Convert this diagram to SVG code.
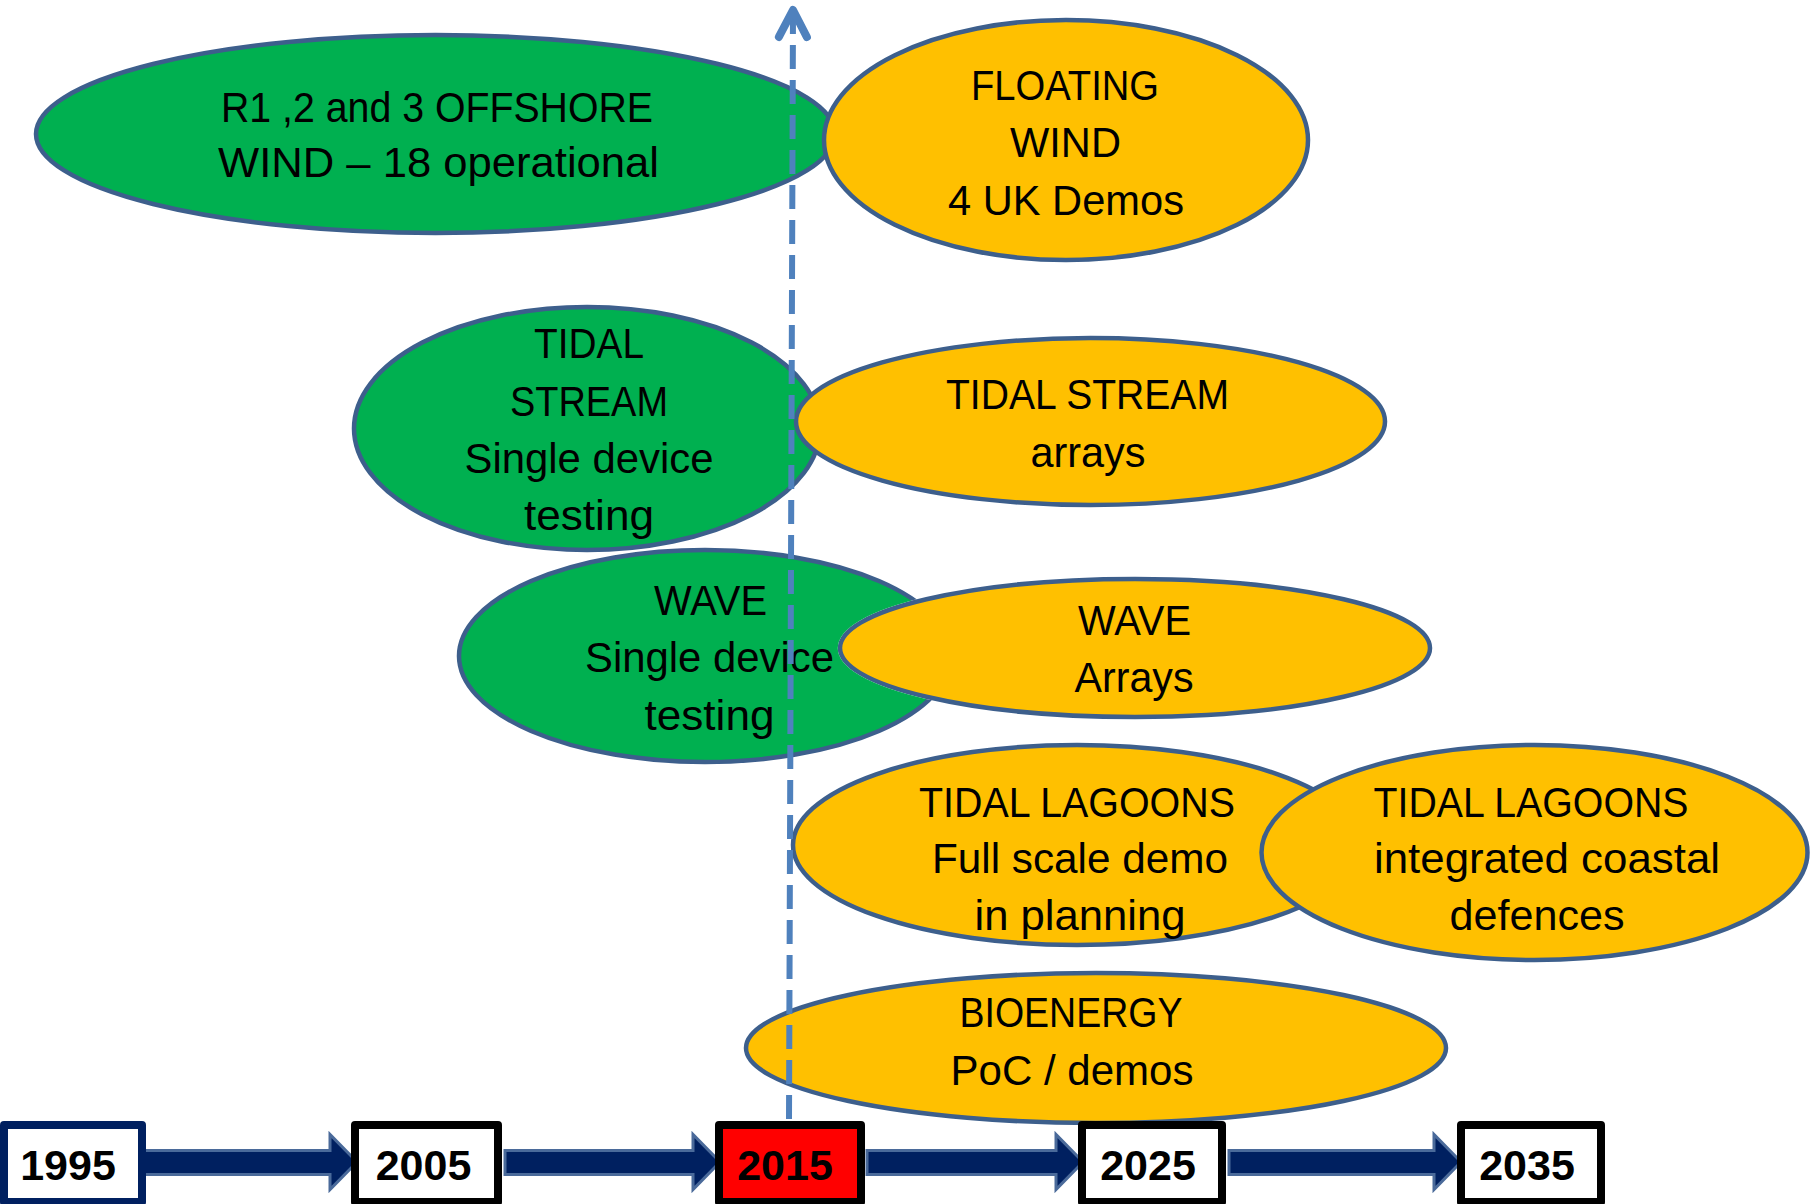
<svg xmlns="http://www.w3.org/2000/svg" width="1814" height="1204" viewBox="0 0 1814 1204">
  <style>
    .bubble ellipse { stroke: #3D5F8C; stroke-width: 4.5; }
    .done ellipse { fill: #00B050; }
    .next ellipse { fill: #FFC000; }
    .label { font-family: "Liberation Sans", Arial, sans-serif; font-size: 43px; fill: #000; text-anchor: middle; }
    .year rect { fill: #fff; stroke: #000; stroke-width: 8; stroke-linejoin: round; }
    .year text { font-family: "Liberation Sans", Arial, sans-serif; font-weight: bold; font-size: 43px; fill: #000; text-anchor: middle; }
    .step { fill: #002060; stroke: #4A6A9A; stroke-width: 3; }
    .now { fill: none; stroke: #4F81BD; stroke-width: 6; stroke-dasharray: 24 11; }
  </style>
  <defs>
    <!-- open chevron head for the "today" line -->
    <marker id="open-head" markerUnits="userSpaceOnUse" viewBox="-40 -22 46 44" refX="0" refY="0" markerWidth="46" markerHeight="44" orient="auto-start-reverse" overflow="visible">
      <path d="M-27,-14 L0,0 L-27,14" fill="none" stroke="#4F81BD" stroke-width="8" stroke-linecap="round" stroke-linejoin="round"/>
    </marker>
    <!-- hides the part of the wave single-device bubble lying under the wave arrays bubble -->
    <mask id="under-wave-arrays" maskUnits="userSpaceOnUse" x="0" y="0" width="1814" height="1204">
      <rect width="1814" height="1204" fill="#fff"/>
      <ellipse cx="1135" cy="648" rx="295" ry="69" fill="#000" stroke="#000" stroke-width="4.5"/>
    </mask>
  </defs>

  <!-- technology bubbles -->
  <g id="offshore-wind" class="bubble done">
    <ellipse cx="435.5" cy="134" rx="399.5" ry="99"/>
    <text class="label" x="437" y="122" textLength="432" lengthAdjust="spacingAndGlyphs">R1 ,2 and 3 OFFSHORE</text>
    <text class="label" x="438.5" y="177" textLength="441" lengthAdjust="spacingAndGlyphs">WIND – 18 operational</text>
  </g>

  <g id="floating-wind" class="bubble next">
    <ellipse cx="1066" cy="140" rx="242" ry="120"/>
    <text class="label" x="1065" y="100" textLength="188" lengthAdjust="spacingAndGlyphs">FLOATING</text>
    <text class="label" x="1065.5" y="157" textLength="111" lengthAdjust="spacingAndGlyphs">WIND</text>
    <text class="label" x="1066" y="215" textLength="236" lengthAdjust="spacingAndGlyphs">4 UK Demos</text>
  </g>

  <g id="tidal-stream-single" class="bubble done">
    <ellipse cx="587" cy="428.5" rx="233" ry="121.5"/>
    <text class="label" x="589" y="358" textLength="110" lengthAdjust="spacingAndGlyphs">TIDAL</text>
    <text class="label" x="589" y="416" textLength="158" lengthAdjust="spacingAndGlyphs">STREAM</text>
    <text class="label" x="589" y="473" textLength="249" lengthAdjust="spacingAndGlyphs">Single device</text>
    <text class="label" x="589" y="530" textLength="130" lengthAdjust="spacingAndGlyphs">testing</text>
  </g>

  <g id="tidal-stream-arrays" class="bubble next">
    <ellipse cx="1090.5" cy="421.5" rx="294.5" ry="83.5"/>
    <text class="label" x="1087.5" y="409" textLength="283" lengthAdjust="spacingAndGlyphs">TIDAL STREAM</text>
    <text class="label" x="1088" y="467" textLength="115" lengthAdjust="spacingAndGlyphs">arrays</text>
  </g>

  <g id="wave-arrays" class="bubble next">
    <ellipse cx="1135" cy="648" rx="295" ry="69"/>
    <text class="label" x="1134.5" y="635" textLength="113" lengthAdjust="spacingAndGlyphs">WAVE</text>
    <text class="label" x="1134" y="692" textLength="119" lengthAdjust="spacingAndGlyphs">Arrays</text>
  </g>

  <g id="wave-single" class="bubble done">
    <ellipse cx="705" cy="656" rx="246" ry="106" mask="url(#under-wave-arrays)"/>
    <text class="label" x="710.5" y="615" textLength="113" lengthAdjust="spacingAndGlyphs">WAVE</text>
    <text class="label" x="709.5" y="672" textLength="249" lengthAdjust="spacingAndGlyphs">Single device</text>
    <text class="label" x="709.5" y="730" textLength="130" lengthAdjust="spacingAndGlyphs">testing</text>
  </g>

  <g id="tidal-lagoons-demo" class="bubble next">
    <ellipse cx="1077" cy="845" rx="284" ry="100"/>
    <text class="label" x="1077" y="817" textLength="316" lengthAdjust="spacingAndGlyphs">TIDAL LAGOONS</text>
    <text class="label" x="1080" y="873" textLength="296" lengthAdjust="spacingAndGlyphs">Full scale demo</text>
    <text class="label" x="1080" y="930" textLength="211" lengthAdjust="spacingAndGlyphs">in planning</text>
  </g>

  <g id="tidal-lagoons-coastal" class="bubble next">
    <ellipse cx="1534.5" cy="852.5" rx="273" ry="107.5"/>
    <text class="label" x="1531" y="817" textLength="315" lengthAdjust="spacingAndGlyphs">TIDAL LAGOONS</text>
    <text class="label" x="1547" y="873" textLength="346" lengthAdjust="spacingAndGlyphs">integrated coastal</text>
    <text class="label" x="1537" y="930" textLength="175" lengthAdjust="spacingAndGlyphs">defences</text>
  </g>

  <g id="bioenergy" class="bubble next">
    <ellipse cx="1096" cy="1048" rx="350" ry="75"/>
    <text class="label" x="1071" y="1027" textLength="223" lengthAdjust="spacingAndGlyphs">BIOENERGY</text>
    <text class="label" x="1072" y="1085" textLength="243" lengthAdjust="spacingAndGlyphs">PoC / demos</text>
  </g>

  <!-- connectors: the "today" line and the timeline steps -->
  <g id="connectors">
    <path class="now" d="M793,10 L789,1121" marker-start="url(#open-head)"/>
    <polygon class="step" points="143,1150.5 330,1150.5 330,1134.5 357,1162 330,1189.5 330,1174.5 143,1174.5"/>
    <polygon class="step" points="505,1150.5 693,1150.5 693,1134.5 720,1162 693,1189.5 693,1174.5 505,1174.5"/>
    <polygon class="step" points="867,1150.5 1056,1150.5 1056,1134.5 1083,1162 1056,1189.5 1056,1174.5 867,1174.5"/>
    <polygon class="step" points="1229,1150.5 1434,1150.5 1434,1134.5 1461,1162 1434,1189.5 1434,1174.5 1229,1174.5"/>
  </g>

  <!-- timeline year boxes -->
  <g id="year-1995" class="year">
    <rect x="4" y="1125" width="138" height="77" style="stroke:#002060"/>
    <text x="68" y="1180">1995</text>
  </g>
  <g id="year-2005" class="year">
    <rect x="355" y="1125" width="143" height="77"/>
    <text x="423.5" y="1180">2005</text>
  </g>
  <g id="year-2015" class="year">
    <rect x="719" y="1125" width="142" height="77" style="fill:#FF0000"/>
    <text x="785" y="1180">2015</text>
  </g>
  <g id="year-2025" class="year">
    <rect x="1082" y="1125" width="140" height="77"/>
    <text x="1148" y="1180">2025</text>
  </g>
  <g id="year-2035" class="year">
    <rect x="1461" y="1125" width="140" height="77"/>
    <text x="1527" y="1180">2035</text>
  </g>
</svg>
